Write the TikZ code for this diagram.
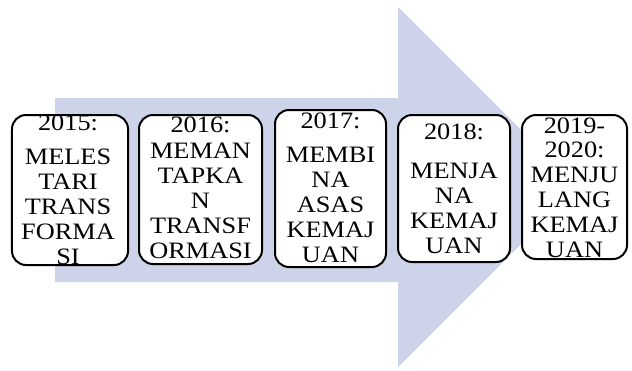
\documentclass[tikz,border=0pt]{standalone}
\usepackage{fontspec}
\setmainfont{Liberation Serif}
\definecolor{arrowfill}{RGB}{205,212,234}
\begin{document}
\begin{tikzpicture}[x=1bp,y=-1bp,
  stagebox/.style={draw=black, line width=2bp, rounded corners=14bp, fill=white, inner sep=0pt},
  stagetext/.style={anchor=base, align=center, inner sep=0pt, xscale=1.12,
    font=\fontsize{23.5bp}{24.8bp}\selectfont}]
\useasboundingbox (0,0) rectangle (632,370);
\fill[arrowfill] (55,98) -- (398,98) -- (398,7) -- (578,187) -- (398,367) -- (398,282) -- (55,282) -- cycle;
\node[stagebox, minimum width=116bp, minimum height=150bp] (b1) at (70,190) {};
\node[stagebox, minimum width=123bp, minimum height=149bp] (b2) at (200.5,189.5) {};
\node[stagebox, minimum width=111bp, minimum height=157bp] (b3) at (330.5,188.5) {};
\node[stagebox, minimum width=112bp, minimum height=147bp] (b4) at (454,188.5) {};
\node[stagebox, minimum width=105bp, minimum height=144bp] (b5) at (574.5,187) {};
\node[stagetext] (t1) at (68,264) {2015:\\[10bp]MELES\\TARI\\TRANS\\FORMA\\SI};
\node[stagetext] (t2) at (200.5,258) {2016:\\[2bp]MEMAN\\TAPKA\\N\\TRANSF\\ORMASI};
\node[stagetext] (t3) at (330.5,262) {2017:\\[10bp]MEMBI\\NA\\ASAS\\KEMAJ\\UAN};
\node[stagetext] (t4) at (454,253) {2018:\\[14bp]MENJA\\NA\\KEMAJ\\UAN};
\node[stagetext] (t5) at (574.5,257) {2019-\\2020:\\MENJU\\LANG\\KEMAJ\\UAN};
\end{tikzpicture}
\end{document}
